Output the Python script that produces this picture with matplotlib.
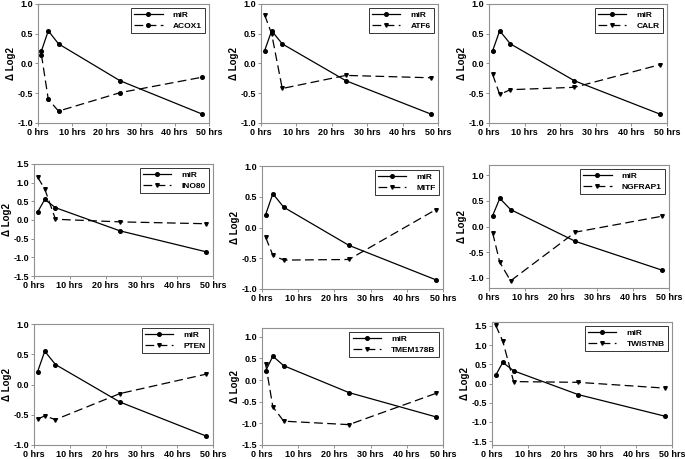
import matplotlib
matplotlib.use('Agg')
from matplotlib import pyplot as plt
import numpy as np

plt.rcParams['font.family'] = ['Liberation Sans', 'DejaVu Sans']
plt.rcParams['font.weight'] = 'bold'

hours = [1, 3, 6, 24, 48]
mir = [0.21, 0.55, 0.33, -0.29, -0.85]

genes = ['ACOX1', 'ATF6', 'CALR', 'INO80', 'MITF', 'NGFRAP1', 'PTEN', 'TMEM178B', 'TWISTNB']
acox1 = [0.15, -0.60, -0.80, -0.49, -0.23]
atf6 = [0.82, 0.50, -0.42, -0.20, -0.24]
calr = [-0.18, -0.52, -0.44, -0.40, -0.02]
ino80 = [1.15, 0.83, 0.02, -0.05, -0.10]
mitf = [-0.16, -0.45, -0.53, -0.52, 0.29]
ngfrap1 = [-0.12, -0.70, -1.06, -0.11, 0.20]
pten = [-0.57, -0.52, -0.58, -0.15, 0.17]
tmem178b = [0.37, -0.62, -0.95, -1.03, -0.31]
twistnb = [1.52, 1.10, 0.05, 0.03, -0.12]
series = [acox1, atf6, calr, ino80, mitf, ngfrap1, pten, tmem178b, twistnb]

xticks = [0, 10, 20, 30, 40, 50]
xticklabels = ['0 hrs', '10 hrs', '20 hrs', '30 hrs', '40 hrs', '50 hrs']

# панели: (лево, право, верх, низ) в пикселях
boxes = [(38, 209, 4, 123), (261, 438, 4, 123), (489, 667, 4, 123),
         (34, 213, 164, 276), (262, 443, 166, 289), (489, 669, 165, 288),
         (34, 213, 324, 445), (262, 443, 328, 445), (492, 672, 322, 445)]
ylims = [(-1, 1), (-1, 1), (-1, 1), (-1.5, 1.5), (-1, 1), (-1.2, 1.2),
         (-1, 1), (-1.5, 1.2), (-1.6, 1.6)]
yticks = [np.arange(-1, 1.01, 0.5)] * 3 + [np.arange(-1.5, 1.51, 0.5), np.arange(-1, 1.01, 0.5),
          np.arange(-1, 1.01, 0.5), np.arange(-1, 1.01, 0.5), np.arange(-1.5, 1.01, 0.5),
          np.arange(-1.5, 1.51, 0.5)]

W, H = 685, 459
fig = plt.figure(figsize=(W / 100, H / 100), dpi=100)

for i, g in enumerate(genes):
    l, r, t, b = boxes[i]
    ax = fig.add_axes([l / W, 1 - b / H, (r - l) / W, (b - t) / H])
    ax.plot(hours, mir, '-', color='black', lw=0.9, marker='o', ms=2.6, label='miR')
    mk = 'o' if g == 'ACOX1' else 'v'
    ax.plot(hours, series[i], color='black', lw=0.9, dashes=(7, 3.5), marker=mk, ms=2.6, label=g)
    ax.set_xlim(0, 50)
    ax.set_ylim(*ylims[i])
    ax.set_xticks(xticks)
    ax.set_xticklabels(xticklabels)
    ax.set_yticks(yticks[i])
    ax.yaxis.set_major_formatter(matplotlib.ticker.FormatStrFormatter('%.1f'))
    ax.tick_params(labelsize=6.5, length=2, width=0.6, color='#808080', pad=1.5)
    for s in ax.spines.values():
        s.set_color('#909090')
        s.set_linewidth(0.8)
    ax.set_ylabel('Δ Log2', fontsize=7, fontweight='bold', labelpad=1)
    leg = ax.legend(loc='upper right', fontsize=6, frameon=True, fancybox=False,
                    handlelength=3.4, borderpad=0.4, labelspacing=0.3, handletextpad=1.2,
                    borderaxespad=0.5)
    leg.get_frame().set_edgecolor('black')
    leg.get_frame().set_linewidth(0.7)

fig.savefig('out.png', dpi=100)
